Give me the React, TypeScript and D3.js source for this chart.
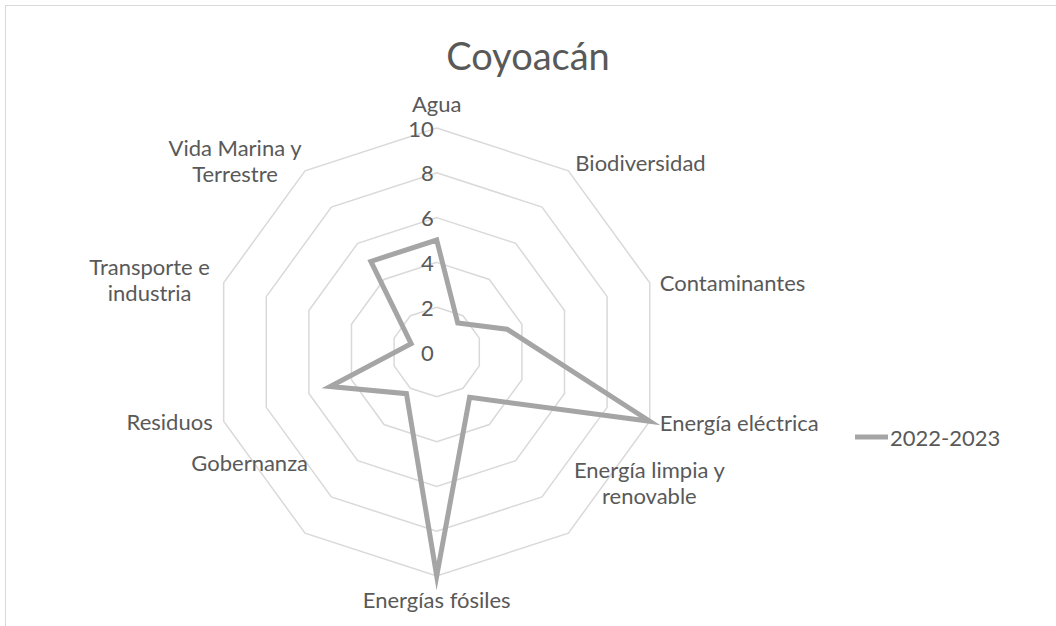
import React from "react";
import * as d3 from "d3";

const categories = [
  "Agua",
  "Biodiversidad",
  "Contaminantes",
  "Energía eléctrica",
  "Energía limpia y renovable",
  "Energías fósiles",
  "Gobernanza",
  "Residuos",
  "Transporte e industria",
  "Vida Marina y Terrestre",
];
const seriesName = "2022-2023";
const values = [5, 1.6, 3.3, 10, 2.5, 10, 2.3, 5, 1.2, 5];
const ticks = [0, 2, 4, 6, 8, 10];
const title = "Coyoacán";

const W = 1056;
const H = 626;
const cx = 436.7;
const cy = 352;
const R = 224;
const FONT = "Lato, 'Open Sans', sans-serif";
const TEXT = "#595959";
const FS = 22;
const LH = 26;

// label layout: lines, anchor, offsets relative to outer vertex
const labelLayout: { lines: string[]; anchor: string; x: number; y: number }[] = [
  { lines: ["Agua"], anchor: "middle", x: 0, y: -25 },
  { lines: ["Biodiversidad"], anchor: "start", x: 7, y: -9 },
  { lines: ["Contaminantes"], anchor: "start", x: 10, y: -1 },
  { lines: ["Energía eléctrica"], anchor: "start", x: 10, y: 1 },
  { lines: ["Energía limpia y", "renovable"], anchor: "middle", x: 81, y: -64 },
  { lines: ["Energías fósiles"], anchor: "middle", x: 0, y: 23 },
  { lines: ["Gobernanza"], anchor: "end", x: 3, y: -71 },
  { lines: ["Residuos"], anchor: "end", x: -11, y: 0 },
  { lines: ["Transporte e", "industria"], anchor: "middle", x: -74, y: -17 },
  { lines: ["Vida Marina y", "Terrestre"], anchor: "middle", x: -70, y: -24 },
];

export default function App() {
  const r = d3.scaleLinear().domain([0, 10]).range([0, R]);
  const n = categories.length;
  const angle = (i: number) => (i * 2 * Math.PI) / n;
  const pt = (i: number, v: number): [number, number] => [
    cx + r(v) * Math.sin(angle(i)),
    cy - r(v) * Math.cos(angle(i)),
  ];
  const line = d3.line().curve(d3.curveLinearClosed);
  const rings = ticks.filter((t) => t > 0);
  const dataPath = line(values.map((v, i) => pt(i, v))) || "";

  return (
    <svg
      width={W}
      height={H}
      style={{ position: "absolute", left: 0, top: 0, background: "#fff" }}
      fontFamily={FONT}
    >
      <rect x={0} y={0} width={W} height={H} fill="#fff" />
      <rect x={5.5} y={5.5} width={W + 20} height={H + 20} fill="none" stroke="#d9d9d9" strokeWidth={1} />
      <text x={528} y={55} textAnchor="middle" dominantBaseline="central" fontSize={38} fill={TEXT}>
        {title}
      </text>
      {rings.map((t) => (
        <path
          key={t}
          d={line(categories.map((_, i) => pt(i, t))) || ""}
          fill="none"
          stroke="#d9d9d9"
          strokeWidth={1.5}
        />
      ))}
      {ticks.map((t) => (
        <text
          key={t}
          x={cx - 3}
          y={cy - r(t)}
          textAnchor="end"
          dominantBaseline="central"
          fontSize={FS}
          fill={TEXT}
        >
          {t}
        </text>
      ))}
      <path d={dataPath} fill="none" stroke="#a5a5a5" strokeWidth={5} strokeLinejoin="miter" strokeMiterlimit={20} />
      {categories.map((c, i) => {
        const [vx, vy] = pt(i, 10);
        const L = labelLayout[i];
        return (
          <text
            key={c}
            x={vx + L.x}
            y={vy + L.y}
            textAnchor={L.anchor as any}
            fontSize={FS}
            fill={TEXT}
            dominantBaseline="central"
          >
            {L.lines.map((ln, k) => (
              <tspan key={k} x={vx + L.x} dy={k === 0 ? 0 : LH}>
                {ln}
              </tspan>
            ))}
          </text>
        );
      })}
      <line x1={855} x2={888} y1={437} y2={437} stroke="#a5a5a5" strokeWidth={5} />
      <text x={890} y={437} dominantBaseline="central" fontSize={FS} fill={TEXT}>
        {seriesName}
      </text>
    </svg>
  );
}
